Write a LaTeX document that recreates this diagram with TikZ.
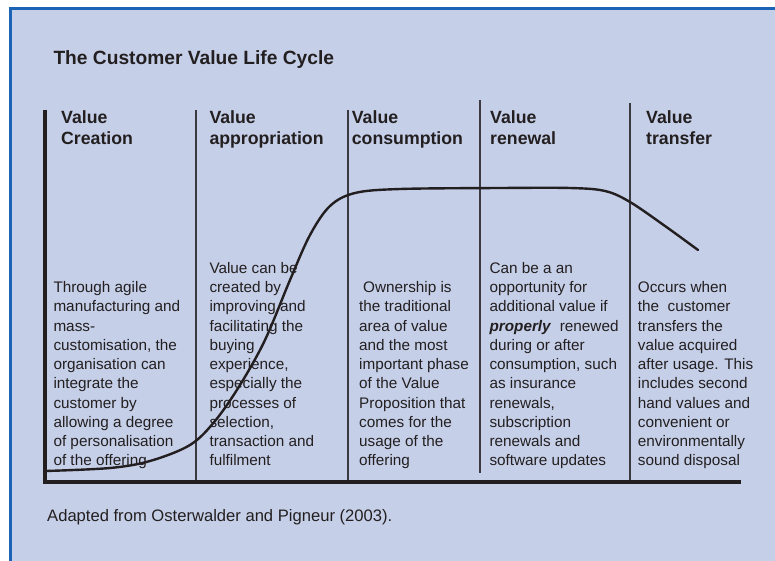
\documentclass[tikz,border=0pt]{standalone}
\usepackage{fontspec}
\setmainfont{Liberation Sans}
\definecolor{panel}{HTML}{C5CFE8}
\definecolor{frameblue}{HTML}{1A63B5}
\definecolor{ink}{HTML}{231F20}
\definecolor{divider}{HTML}{3A3A40}
\tikzset{
  headtxt/.style={anchor=base west, inner sep=0pt, text=ink, font=\bfseries},
  bodytxt/.style={anchor=base west, inner sep=0pt, text=ink},
  divline/.style={draw=divider, line width=1.1pt},
  axisline/.style={draw=ink, line width=4.5pt},
  curveline/.style={draw=ink, line width=2.4pt, line cap=round, line join=round}
}
\newcommand{\bodypar}[1]{\parbox[t]{140pt}{\fontsize{15.3}{19.25}\selectfont\raggedright #1}}
\newcommand{\headpar}[1]{\parbox[t]{135pt}{\fontsize{17.7}{20.7}\selectfont\bfseries\raggedright #1}}
\begin{document}
\begin{tikzpicture}[x=1pt,y=-1pt]
\useasboundingbox (0,0) rectangle (775,561);
% panel
\fill[panel] (10.5,8.5) rectangle (780,570);
\draw[frameblue, line width=2.3pt] (10.5,575) -- (10.5,8.5) -- (780,8.5);
% title
\node[anchor=base west, inner sep=0pt, text=ink, font=\fontsize{19.2}{23}\selectfont\bfseries] (title) at (53.3,65) {The Customer Value Life Cycle};
% axes
\coordinate (ytop) at (45,110);
\coordinate (origin) at (45,482);
\coordinate (xend) at (741,482);
\draw[axisline] (ytop) -- (origin) -- (xend);
% dividers
\coordinate (d1t) at (196,110); \coordinate (d1b) at (196,480);
\coordinate (d2t) at (348,110); \coordinate (d2b) at (348,480);
\coordinate (d3t) at (480,100); \coordinate (d3b) at (480,473);
\coordinate (d4t) at (630,103); \coordinate (d4b) at (630,480);
\draw[divline] (d1t) -- (d1b);
\draw[divline] (d2t) -- (d2b);
\draw[divline] (d3t) -- (d3b);
\draw[divline] (d4t) -- (d4b);
% headers
\node[headtxt] (h1) at (61,124) {\headpar{Value\\Creation}};
\node[headtxt] (h2) at (209.3,124) {\headpar{Value\\appropriation}};
\node[headtxt] (h3) at (351.7,124) {\headpar{Value\\consumption}};
\node[headtxt] (h4) at (490,124) {\headpar{Value\\renewal}};
\node[headtxt] (h5) at (646,124) {\headpar{Value\\transfer}};
% curve
\draw[curveline] plot[smooth, tension=0.55] coordinates {
  (46,471) (110,468) (150,461) (190,445) (215,421) (240,385) (265,340)
  (290,280) (310,235) (330,206) (355,193) (400,189) (500,188) (570,188)
  (605,191) (630,202) (665,226) (698,250)};
% body texts
\node[bodytxt] (b1) at (53.3,292.5) {\bodypar{Through agile\\manufacturing and\\mass-\\customisation, the\\organisation can\\integrate the\\customer by\\allowing a degree\\of personalisation\\of the offering}};
\node[bodytxt] (b2) at (209.3,273.3) {\bodypar{Value can be\\created by\\improving and\\facilitating the\\buying\\experience,\\especially the\\processes of\\selection,\\transaction and\\fulfilment}};
\node[bodytxt] (b3) at (359,292.5) {\bodypar{\hspace*{4pt}Ownership is\\the traditional\\area of value\\and the most\\important phase\\of the Value\\Proposition that\\comes for the\\usage of the\\offering}};
\node[bodytxt] (b4) at (489.3,273.3) {\bodypar{Can be a an\\opportunity for\\additional value if\\\textbf{\textit{properly}}\ \ renewed\\during or after\\consumption, such\\as insurance\\renewals,\\subscription\\renewals and\\software updates}};
\node[bodytxt] (b5) at (637.7,292.5) {\bodypar{Occurs when\\the\ \ customer\\transfers the\\value acquired\\after usage. This\\includes second\\hand values and\\convenient or\\environmentally\\sound disposal}};
% footnote
\node[anchor=base west, inner sep=0pt, text=ink, font=\fontsize{16.6}{20}\selectfont] (src) at (47,521) {Adapted from Osterwalder and Pigneur (2003).};
\end{tikzpicture}
\end{document}
